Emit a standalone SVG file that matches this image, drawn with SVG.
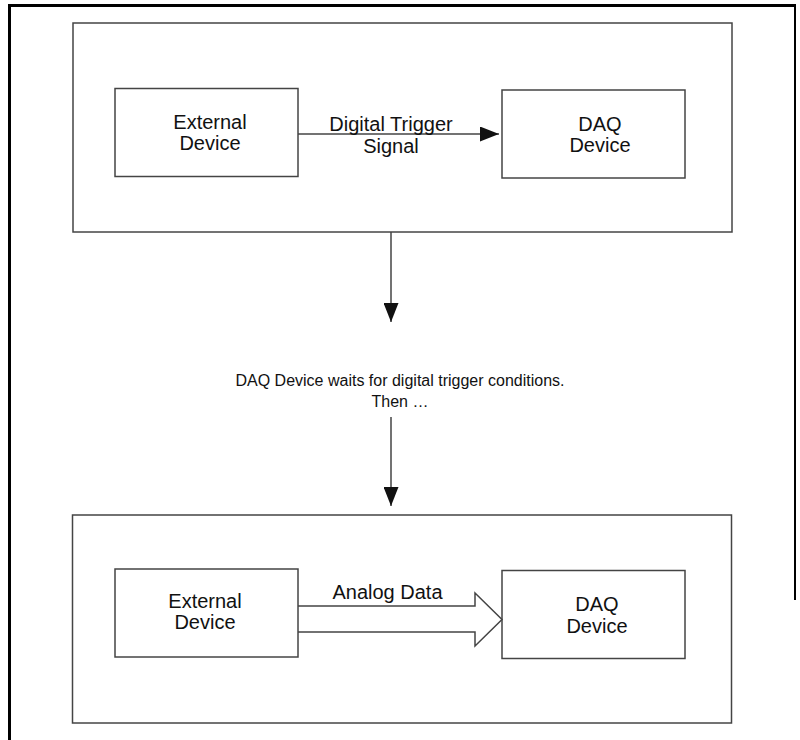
<svg xmlns="http://www.w3.org/2000/svg" width="800" height="740" viewBox="0 0 800 740">
<defs>
<style>
.frame{fill:none;stroke:#000;}
.box{fill:#fff;stroke:#444;stroke-width:1.5;}
.ln{fill:none;stroke:#444;stroke-width:1.5;}
.t{font-family:"Liberation Sans",Arial,sans-serif;font-size:20px;fill:#111;text-anchor:middle;}
.tm{font-family:"Liberation Sans",Arial,sans-serif;font-size:16px;fill:#111;text-anchor:middle;}
</style>
<marker id="ah" markerWidth="19" markerHeight="15" refX="19" refY="7.5" orient="auto" markerUnits="userSpaceOnUse">
<path d="M0,0 L19,7.5 L0,15 Z" fill="#111"/>
</marker>
</defs>
<rect width="800" height="740" fill="#fff"/>
<g id="frame">
<line class="frame" x1="9.5" y1="4" x2="9.5" y2="740" stroke-width="3"/>
<line class="frame" x1="8" y1="5.5" x2="796" y2="5.5" stroke-width="3"/>
<line class="frame" x1="795" y1="4" x2="795" y2="600" stroke-width="2"/>
</g>
<g id="stage1">
<rect class="box" x="73" y="23" width="659" height="209"/>
</g>
<g id="stage2">
<rect class="box" x="72.5" y="515" width="659" height="208"/>
</g>
<g id="ext1">
<rect class="box" x="115" y="88.5" width="183" height="88"/>
<text class="t" x="210" y="129">External</text>
<text class="t" x="210" y="150">Device</text>
</g>
<g id="daq1">
<rect class="box" x="502" y="90" width="183" height="88"/>
<text class="t" x="600" y="131">DAQ</text>
<text class="t" x="600" y="152">Device</text>
</g>
<g id="ext2">
<rect class="box" x="115" y="569" width="183" height="88"/>
<text class="t" x="205" y="608">External</text>
<text class="t" x="205" y="629">Device</text>
</g>
<g id="daq2">
<rect class="box" x="502" y="570.5" width="183" height="88"/>
<text class="t" x="597" y="611">DAQ</text>
<text class="t" x="597" y="633">Device</text>
</g>
<g id="note">
<text class="tm" x="400" y="386">DAQ Device waits for digital trigger conditions.</text>
<text class="tm" x="400" y="407">Then …</text>
</g>
<g id="connectors">
<line class="ln" x1="298" y1="134" x2="499" y2="134" marker-end="url(#ah)"/>
<text class="t" x="391" y="131">Digital Trigger</text>
<text class="t" x="391" y="153">Signal</text>
<line class="ln" x1="391" y1="232" x2="391" y2="322" marker-end="url(#ah)"/>
<line class="ln" x1="391" y1="417" x2="391" y2="506" marker-end="url(#ah)"/>
<path class="ln" d="M298,606 L475,606 L475,593 L502,619.5 L475,646 L475,632 L298,632" stroke-width="1.2"/>
<text class="t" x="387.5" y="599">Analog Data</text>
</g>
</svg>
